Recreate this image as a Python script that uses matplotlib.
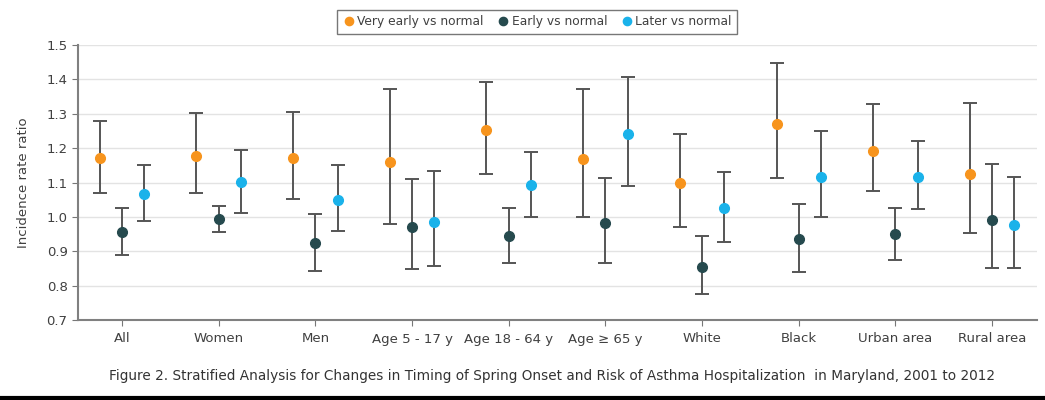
import numpy as np
import matplotlib
matplotlib.use("Agg")
import matplotlib.pyplot as plt
from matplotlib.lines import Line2D

# catégories et ratios (valeur, borne basse, borne haute)
cats = ["All", "Women", "Men", "Age 5 - 17 y", "Age 18 - 64 y", "Age \u2265 65 y",
        "White", "Black", "Urban area", "Rural area"]

very_early = [1.170, 1.177, 1.170, 1.159, 1.253, 1.167, 1.098, 1.270, 1.193, 1.125]
very_early_lo = [1.070, 1.069, 1.051, 0.978, 1.126, 0.999, 0.971, 1.113, 1.075, 0.952]
very_early_hi = [1.280, 1.301, 1.305, 1.371, 1.393, 1.371, 1.240, 1.449, 1.327, 1.330]

early = [0.957, 0.995, 0.923, 0.972, 0.944, 0.983, 0.855, 0.936, 0.949, 0.992]
early_lo = [0.890, 0.955, 0.843, 0.849, 0.866, 0.866, 0.775, 0.841, 0.875, 0.852]
early_hi = [1.027, 1.032, 1.008, 1.109, 1.027, 1.112, 0.945, 1.038, 1.026, 1.154]

later = [1.066, 1.100, 1.050, 0.986, 1.093, 1.240, 1.026, 1.115, 1.115, 0.976]
later_lo = [0.989, 1.010, 0.958, 0.856, 0.999, 1.090, 0.927, 0.999, 1.023, 0.852]
later_hi = [1.151, 1.195, 1.151, 1.134, 1.190, 1.408, 1.131, 1.250, 1.222, 1.117]

series = [
    ("Very early vs normal", very_early, very_early_lo, very_early_hi, "#F7941D", -0.23),
    ("Early vs normal", early, early_lo, early_hi, "#264A4E", 0.0),
    ("Later vs normal", later, later_lo, later_hi, "#1AB2EA", 0.23),
]

fig = plt.figure(figsize=(10.45, 4), dpi=100)
ax = fig.add_axes([0.0746, 0.2, 0.9174, 0.6875])

x = np.arange(len(cats))
for name, v, lo, hi, col, off in series:
    v = np.array(v)
    err = [v - np.array(lo), np.array(hi) - v]
    ax.errorbar(x + off, v, yerr=err, fmt="none", ecolor="#555555",
                elinewidth=1.4, capsize=5, capthick=1.4, zorder=2)
    ax.plot(x + off, v, "o", color=col, ms=7, label=name, zorder=3, lw=0)

ax.set_xlim(-0.455, 9.46)
ax.set_ylim(0.7, 1.5)
ax.set_yticks(np.arange(0.7, 1.51, 0.1))
ax.set_yticklabels([f"{t:.1f}" for t in np.arange(0.7, 1.51, 0.1)])
ax.set_xticks(x)
ax.set_xticklabels(cats)
ax.yaxis.grid(True, color="#e3e3e3", lw=1)
ax.set_axisbelow(True)
ax.tick_params(axis="both", colors="#777777", labelcolor="#404040", labelsize=9.5, length=4)
ax.tick_params(axis="x", pad=5)
for s in ["top", "right"]:
    ax.spines[s].set_visible(False)
for s in ["left", "bottom"]:
    ax.spines[s].set_color("#808080")
    ax.spines[s].set_linewidth(1.5)
ax.set_ylabel("Incidence rate ratio", fontsize=9.5, color="#404040", labelpad=12)

leg = fig.legend(loc="center", bbox_to_anchor=(0.514, 0.946), ncol=3, frameon=True,
                 fontsize=8.8, handletextpad=0.2, columnspacing=1.1, borderpad=0.45,
                 handlelength=1.0, fancybox=False, markerscale=0.85)
leg.get_frame().set_edgecolor("#555555")
leg.get_frame().set_linewidth(1.0)
for t in leg.get_texts():
    t.set_color("#404040")

fig.text(0.528, 0.06, "Figure 2. Stratified Analysis for Changes in Timing of Spring Onset and Risk "
         "of Asthma Hospitalization  in Maryland, 2001 to 2012",
         ha="center", va="center", fontsize=9.8, color="#333333")

fig.add_artist(Line2D([0, 1], [0.004, 0.004], color="black", lw=3))

fig.savefig("out.png", dpi=100)
